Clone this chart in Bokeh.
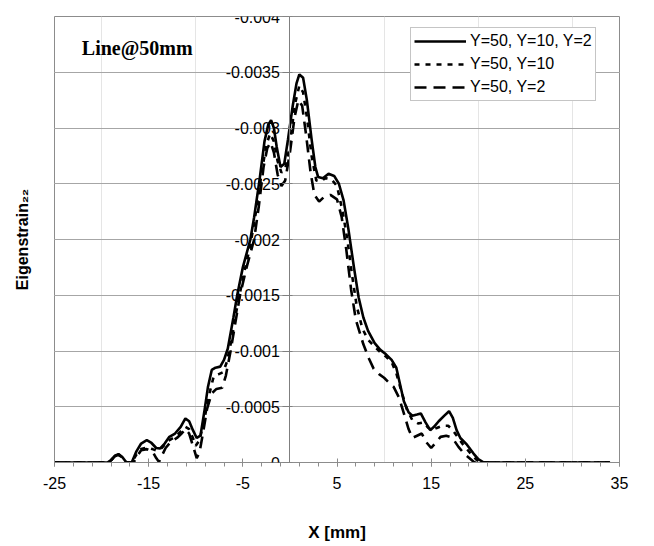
from bokeh.plotting import figure
from bokeh.models import (Range1d, LinearAxis, FixedTicker, Grid, Legend, LegendItem,
                          Label, CustomJSTickFormatter)
from bokeh.embed import file_html
from bokeh.resources import INLINE

# ---- data (x in mm, eigenstrain in units of 1e-4) ----
SCALE = 1e-4

x_all = [-25, -20, -19.4, -19.0, -18.6, -18.2, -17.8, -17.4, -17.2, -16.8, -16.3, -15.8, -15.2,
         -14.7, -14.2, -13.8, -13.3, -12.8, -12.2, -11.6, -11.1, -10.7, -10.3, -9.9, -9.5,
         -9.1, -8.7, -8.3, -7.9, -7.4, -7.0, -6.6, -6.0, -5.6, -5.0, -4.2, -3.8, -3.2, -2.7,
         -2.3, -2.0, -1.7, -1.4, -1.0, -0.6, -0.2, 0.3, 0.7, 1.0, 1.4, 1.8, 2.3, 2.7, 3.0,
         3.5, 4.1, 4.7, 5.2, 5.7, 6.2, 6.8, 7.3, 7.8, 8.3, 9.0, 9.6, 10.2, 10.8, 11.3, 11.7,
         12.1, 12.6, 13.0, 13.5, 13.9, 14.4, 14.9, 15.3, 15.8, 16.4, 16.9, 17.3, 17.7, 18.1,
         18.8, 19.5, 20.0, 20.6, 22, 34]
y_all = [0, 0, 0, -0.2, -0.6, -0.75, -0.5, -0.05, 0, 0, -1.0, -1.7, -2.0,
         -1.75, -1.3, -1.25, -1.7, -2.3, -2.6, -3.2, -3.95, -3.7, -2.9, -2.2, -2.4,
         -4.5, -6.8, -8.3, -8.5, -8.6, -9.2, -10.2, -13.0, -15.0, -17.5, -20.0, -22.0, -25.5, -28.8,
         -30.3, -30.7, -30.0, -28.3, -26.5, -26.8, -29.0, -32.0, -34.0, -34.8, -34.5, -32.5, -29.0, -26.5, -25.6,
         -25.5, -25.9, -25.7, -25.0, -23.5, -21.0, -17.5, -14.8, -13.0, -11.8, -10.7, -10.1, -9.7, -9.2, -8.5, -7.0,
         -5.5, -4.5, -4.2, -4.3, -4.4, -3.6, -2.9, -3.2, -3.7, -4.2, -4.6, -4.0, -2.9, -2.2,
         -1.6, -0.8, -0.3, 0, 0, 0]

x_y10 = [-25, -19.4, -19.0, -18.6, -18.2, -17.8, -17.4, -16.8, -16.3, -15.8, -15.2, -14.6, -14.1,
         -13.6, -13.0, -12.4, -11.8, -11.1, -10.7, -10.3, -10.0, -9.6, -9.1, -8.6, -8.1, -7.6,
         -7.1, -6.7, -6.2, -5.7, -5.0, -4.2, -3.6, -3.0, -2.5, -2.1, -1.7, -1.3, -0.9, -0.5,
         0.0, 0.5, 1.0, 1.4, 1.8, 2.3, 2.8, 3.2, 3.8, 4.4, 5.0, 5.6, 6.1, 6.6, 7.1, 7.7, 8.3,
         9.0, 9.6, 10.2, 10.8, 11.3, 11.8, 12.4, 13.0, 13.6, 14.2, 14.7, 15.1, 15.6, 16.2, 16.8,
         17.3, 17.8, 18.4, 19.2, 19.8, 20.3, 34]
y_y10 = [0, 0, -0.2, -0.55, -0.7, -0.45, 0, 0, -0.7, -1.2, -1.35, -1.2, -1.05,
         -1.3, -1.9, -2.2, -2.6, -3.2, -3.0, -2.2, -1.5, -2.0, -3.8, -6.0, -7.7, -7.9,
         -8.1, -9.0, -11.0, -13.5, -16.5, -19.5, -22.5, -26.0, -28.5, -29.5, -28.8, -27.0, -26.0, -26.3,
         -28.5, -32.0, -33.8, -33.2, -31.0, -27.5, -25.3, -25.2, -25.5, -25.4, -24.8, -22.5, -20.0, -16.8, -14.0, -12.0, -11.0,
         -10.4, -9.9, -9.5, -9.0, -8.0, -6.5, -4.8, -3.8, -3.5, -3.6, -3.1, -2.9, -3.1, -3.3, -3.3,
         -2.9, -2.3, -1.6, -0.8, -0.25, 0, 0]

x_y2 = [-25, -19.4, -19.0, -18.6, -18.2, -17.8, -17.4, -16.6, -16.2, -15.8, -15.2, -14.6, -14.2,
        -13.9, -13.6, -13.2, -12.6, -12.0, -11.5, -11.1, -10.7, -10.3, -9.9, -9.6, -9.2, -8.8,
        -8.3, -7.8, -7.2, -6.8, -6.3, -5.8, -5.3, -4.6, -3.8, -3.3, -2.8, -2.4, -2.05, -1.7,
        -1.3, -0.9, -0.5, 0.0, 0.5, 0.9, 1.3, 1.7, 2.2, 2.6, 3.1, 3.6, 4.3, 5.0, 5.5, 6.0, 6.5,
        7.0, 7.8, 8.4, 8.9, 9.5, 10.0, 10.6, 11.0, 11.6, 12.1, 12.6, 13.0, 13.5, 14.0, 14.5,
        15.0, 15.5, 16.0, 16.6, 17.0, 17.5, 17.9, 18.5, 19.2, 19.6, 34]
y_y2 = [0, 0, -0.2, -0.55, -0.7, -0.45, 0, 0, -0.6, -1.1, -1.2, -1.0, -0.4,
        -0.05, -0.6, -1.3, -1.9, -2.2, -2.6, -3.0, -2.6, -1.5, -0.4, -0.9, -2.8, -4.8,
        -6.2, -6.6, -6.7, -7.8, -10.0, -12.5, -15.0, -17.5, -20.0, -23.0, -26.5, -28.2, -28.7, -27.8,
        -25.8, -24.8, -25.3, -27.8, -31.0, -32.5, -32.0, -29.5, -26.0, -24.0, -23.4, -23.8, -24.0, -23.6, -22.0, -19.0, -15.5,
        -12.8, -10.6, -9.3, -8.4, -7.9, -7.6, -7.1, -6.8, -5.8, -4.4, -3.0, -2.2, -2.4, -2.6, -1.8,
        -1.3, -1.8, -2.3, -2.4, -2.3, -1.9, -1.4, -0.8, -0.3, 0, 0]

series_labels = ["Y=50, Y=10, Y=2", "Y=50, Y=10", "Y=50, Y=2"]
x_ticks = [-25, -15, -5, 5, 15, 25, 35]
x_minor = list(range(-25, 36, 2))
y_ticks = [0, -0.0005, -0.001, -0.0015, -0.002, -0.0025, -0.003, -0.0035, -0.004]
chart_note = "Line@50mm"
x_title = "X [mm]"
y_title = "Eigenstrain\u2082\u2082"

FONT = "Liberation Sans"

p = figure(width=646, height=544, output_backend="svg", toolbar_location=None,
           x_range=Range1d(-25, 35), y_range=Range1d(0, -0.004),
           x_axis_location=None, y_axis_location=None,
           min_border_left=54, min_border_right=27, min_border_top=16, min_border_bottom=78,
           background_fill_color="white", border_fill_color="white")
p.outline_line_color = "#8c8c8c"
p.outline_line_width = 1

# horizontal grid
yticker = FixedTicker(ticks=y_ticks)
p.add_layout(Grid(dimension=1, ticker=yticker, grid_line_color="#a6a6a6", grid_line_width=1))

# x axis
xax = LinearAxis(ticker=FixedTicker(ticks=x_ticks, minor_ticks=x_minor))
xax.formatter = CustomJSTickFormatter(code="return String(tick);")
xax.axis_line_color = "#8c8c8c"
xax.major_tick_line_color = "#8c8c8c"
xax.minor_tick_line_color = "#8c8c8c"
xax.major_tick_in = 4
xax.major_tick_out = 4
xax.minor_tick_in = 0
xax.minor_tick_out = 4
xax.major_label_text_font = FONT
xax.major_label_text_font_size = "16px"
xax.major_label_text_color = "black"
xax.major_label_standoff = 10
xax.axis_label = x_title
xax.axis_label_text_font = FONT
xax.axis_label_text_font_style = "bold"
xax.axis_label_text_font_size = "17px"
xax.axis_label_text_color = "black"
xax.axis_label_standoff = 31
p.add_layout(xax, "below")

# y axis crossing at x = 0
yax = LinearAxis(ticker=yticker, fixed_location=0)
yax.formatter = CustomJSTickFormatter(code="""
if (Math.abs(tick) < 1e-12) { return '0'; }
return tick.toFixed(4).replace(/0+$/, '');
""")
yax.axis_line_color = "#7f7f7f"
yax.major_tick_line_color = "#7f7f7f"
yax.major_tick_in = 3
yax.major_tick_out = 7
yax.minor_tick_line_color = None
yax.major_label_text_font = FONT
yax.major_label_text_font_size = "16px"
yax.major_label_text_color = "black"
yax.major_label_standoff = 3
p.add_layout(yax, "left")

# y axis title on the far left
ylab = LinearAxis(ticker=FixedTicker(ticks=[]))
ylab.axis_line_color = None
ylab.major_tick_line_color = None
ylab.minor_tick_line_color = None
ylab.major_tick_out = 0
ylab.major_tick_in = 0
ylab.minor_tick_out = 0
ylab.major_label_standoff = 0
ylab.major_label_text_font_size = "0px"
ylab.axis_label = y_title
ylab.axis_label_text_font = FONT
ylab.axis_label_text_font_style = "bold"
ylab.axis_label_text_font_size = "16px"
ylab.axis_label_text_color = "black"
ylab.axis_label_standoff = 24
p.add_layout(ylab, "left")

SC = [v * SCALE for v in y_all]
S10 = [v * SCALE for v in y_y10]
S2 = [v * SCALE for v in y_y2]

r1 = p.line(x_all, SC, line_color="black", line_width=2.6)
r2 = p.line(x_y10, S10, line_color="black", line_width=2.6, line_dash="5 6")
r3 = p.line(x_y2, S2, line_color="black", line_width=2.6, line_dash="12 7")

legend = Legend(items=[LegendItem(label=series_labels[0], renderers=[r1]),
                       LegendItem(label=series_labels[1], renderers=[r2]),
                       LegendItem(label=series_labels[2], renderers=[r3])],
                location=(356, 361))
legend.label_text_font = FONT
legend.label_text_font_size = "16px"
legend.label_text_color = "black"
legend.glyph_width = 52
legend.glyph_height = 20
legend.label_height = 20
legend.label_standoff = 4
legend.spacing = 3
legend.padding = 3
legend.margin = 0
legend.border_line_color = "#8c8c8c"
legend.border_line_width = 1
legend.background_fill_color = "white"
legend.background_fill_alpha = 1
p.add_layout(legend, "center")

note = Label(x=-22.1, y=-0.00372, text=chart_note, text_font="Liberation Serif",
             text_font_style="bold", text_font_size="20px", text_color="black",
             text_baseline="alphabetic")
p.add_layout(note)

open("out.html", "w").write(file_html(p, INLINE))
